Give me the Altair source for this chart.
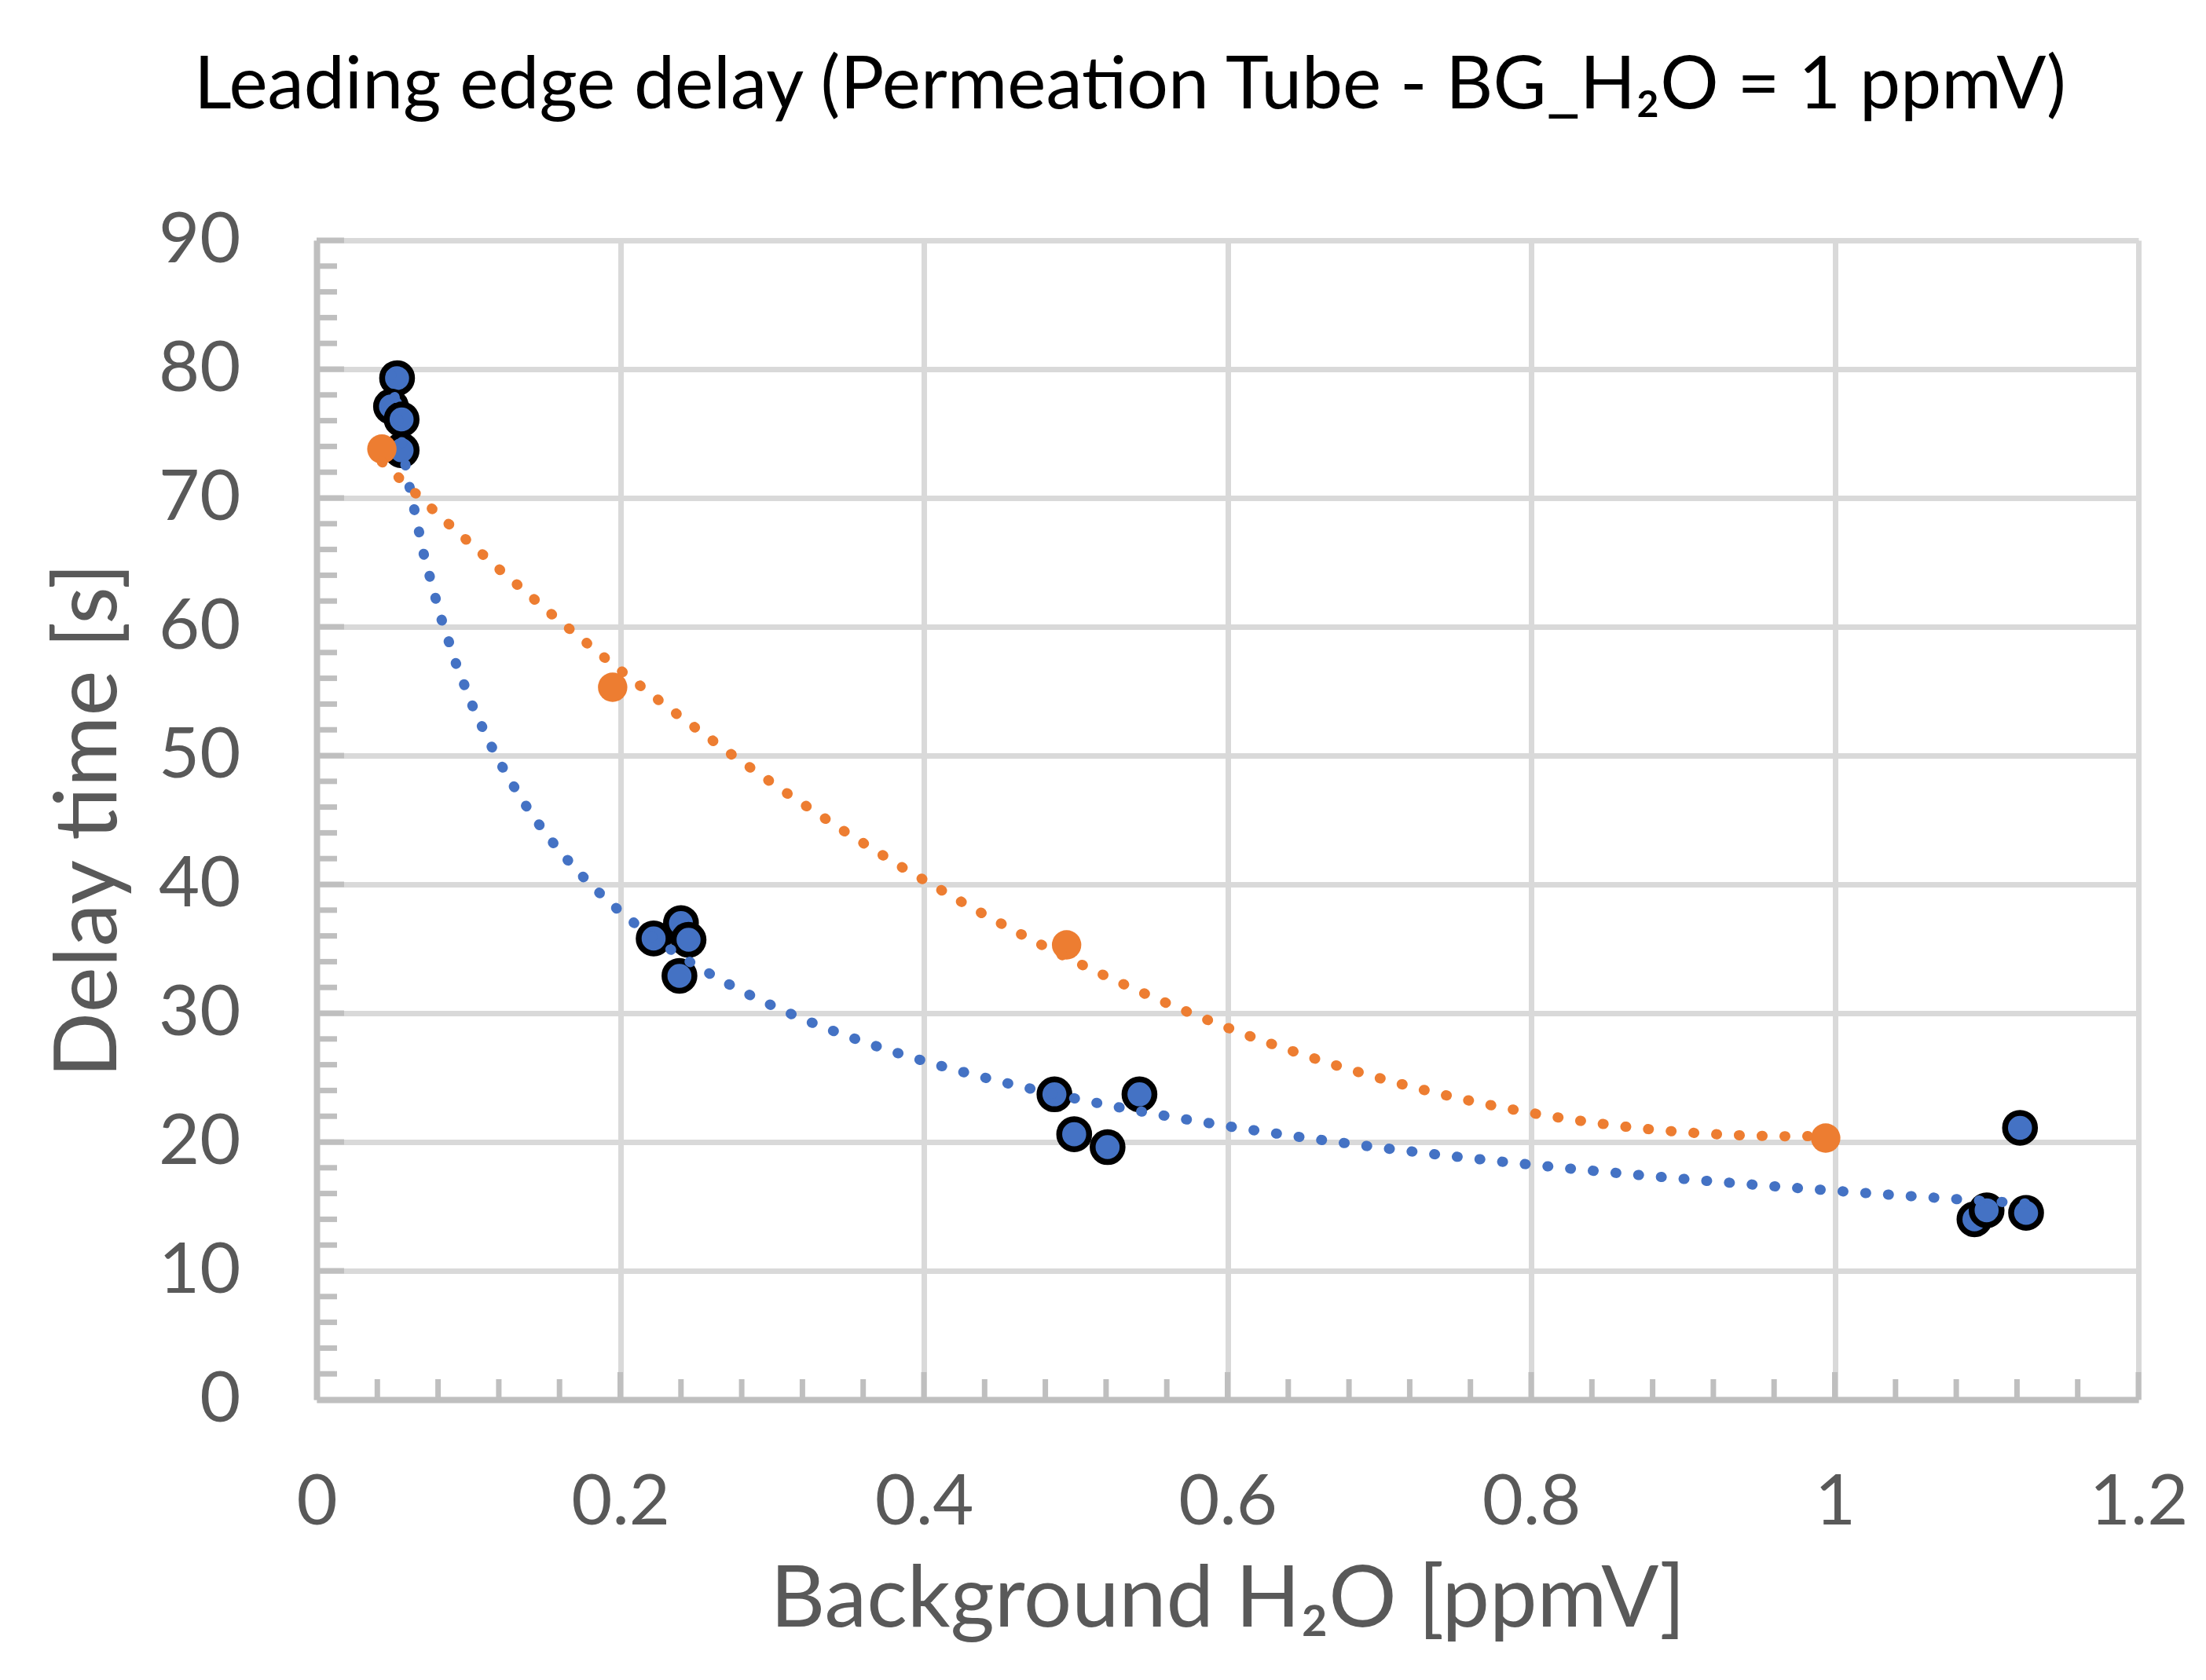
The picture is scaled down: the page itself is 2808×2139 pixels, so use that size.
import altair as alt
import pandas as pd

# ---- data ----
blue_x = [0.053, 0.049, 0.056, 0.056, 0.222, 0.240, 0.245, 0.239,
          0.486, 0.542, 0.499, 0.521, 1.122, 1.092, 1.100, 1.126]
blue_y = [79.3, 77.1, 76.1, 73.7, 35.8, 37.0, 35.7, 32.9,
          23.7, 23.7, 20.6, 19.6, 21.1, 14.0, 14.7, 14.5]
orange_x = [0.043, 0.195, 0.494, 0.994]
orange_y = [73.8, 55.3, 35.3, 20.3]

x_ticks = [0, 0.2, 0.4, 0.6, 0.8, 1.0, 1.2]
y_ticks = [0, 10, 20, 30, 40, 50, 60, 70, 80, 90]
x_minor = [0.04, 0.08, 0.12, 0.16, 0.24, 0.28, 0.32, 0.36, 0.44, 0.48, 0.52, 0.56,
           0.64, 0.68, 0.72, 0.76, 0.84, 0.88, 0.92, 0.96, 1.04, 1.08, 1.12, 1.16]
y_minor = [2, 4, 6, 8, 12, 14, 16, 18, 22, 24, 26, 28, 32, 34, 36, 38, 42, 44, 46, 48,
           52, 54, 56, 58, 62, 64, 66, 68, 72, 74, 76, 78, 82, 84, 86, 88]

TITLE = "Leading edge delay (Permeation Tube - BG_H\u2082O = 1 ppmV)"
X_TITLE = "Background H\u2082O [ppmV]"
Y_TITLE = "Delay time [s]"

BLUE = "#4472C4"
ORANGE = "#ED7D31"
GRID = "#D9D9D9"
AXIS = "#BFBFBF"
TEXT = "#595959"
FONT = "Lato"

W, H = 2319, 1476

blue_df = pd.DataFrame({"x": blue_x, "y": blue_y})
orange_df = pd.DataFrame({"x": orange_x, "y": orange_y})

xs = alt.Scale(domain=[0, 1.2], nice=False, zero=False)
ys = alt.Scale(domain=[0, 90], nice=False, zero=False)

x_axis = alt.Axis(values=x_ticks, format="~g", grid=True, gridColor=GRID, gridWidth=7,
                  domainColor=AXIS, domainWidth=8, ticks=False,
                  labelFont=FONT, labelFontSize=90, labelColor=TEXT,
                  labelBaseline="alphabetic", labelPadding=158, labelFlush=False,
                  title=X_TITLE, titleFont=FONT, titleFontSize=108, titleColor=TEXT,
                  titleFontWeight="normal", titleBaseline="alphabetic",
                  titleX=W / 2, titleY=288)
y_axis = alt.Axis(values=y_ticks, grid=True, gridColor=GRID, gridWidth=7,
                  domainColor=AXIS, domainWidth=8, ticks=False,
                  labelFont=FONT, labelFontSize=90, labelColor=TEXT,
                  labelBaseline="middle", labelPadding=97, labelFlush=False,
                  title=Y_TITLE, titleFont=FONT, titleFontSize=110, titleColor=TEXT,
                  titleFontWeight="normal", titleBaseline="alphabetic",
                  titleX=-256, titleY=H / 2, titleAngle=-90)


def X(field):
    return alt.X(f"{field}:Q", scale=xs, axis=x_axis)


def Y(field):
    return alt.Y(f"{field}:Q", scale=ys, axis=y_axis)


base_blue = alt.Chart(blue_df)
base_orange = alt.Chart(orange_df)

blue_pts = base_blue.mark_point(filled=True, shape="circle", size=1450, fill=BLUE,
                                stroke="black", strokeWidth=7.5, opacity=1).encode(
    x=X("x"), y=Y("y"))
orange_pts = base_orange.mark_point(filled=True, shape="circle", size=1400, fill=ORANGE,
                                    strokeWidth=0, opacity=1).encode(
    x=X("x"), y=Y("y"))

blue_fit = base_blue.transform_regression("x", "y", method="pow").mark_line(
    color=BLUE, strokeWidth=13, strokeDash=[1, 28], strokeCap="round").encode(
    x=X("x"), y=Y("y"))
orange_fit = base_orange.transform_regression("x", "y", method="poly", order=2).mark_line(
    color=ORANGE, strokeWidth=13, strokeDash=[1, 28], strokeCap="round").encode(
    x=X("x"), y=Y("y"))

xminor_df = pd.DataFrame({"v": x_minor})
yminor_df = pd.DataFrame({"v": y_minor})
xmajor_df = pd.DataFrame({"v": x_ticks[1:]})
ymajor_df = pd.DataFrame({"v": y_ticks[1:]})

xminor = alt.Chart(xminor_df).mark_rule(color=AXIS, strokeWidth=7).encode(
    x=X("v"), y=alt.value(H), y2=alt.value(H - 26))
xmajor = alt.Chart(xmajor_df).mark_rule(color=AXIS, strokeWidth=7).encode(
    x=X("v"), y=alt.value(H), y2=alt.value(H - 35))
yminor = alt.Chart(yminor_df).mark_rule(color=AXIS, strokeWidth=7).encode(
    y=Y("v"), x=alt.value(0), x2=alt.value(26))
ymajor = alt.Chart(ymajor_df).mark_rule(color=AXIS, strokeWidth=7).encode(
    y=Y("v"), x=alt.value(0), x2=alt.value(35))

chart = alt.layer(
    blue_pts, xminor, xmajor, yminor, ymajor, orange_pts, blue_fit, orange_fit
).properties(
    width=W, height=H,
    title=alt.Title(TITLE, font=FONT, fontSize=93, fontWeight="normal", color="black",
                    anchor="middle", frame="group", dx=-124, offset=30,
                    baseline="alphabetic"),
    autosize=alt.AutoSizeParams(type="none"),
    padding={"left": 395, "top": 298, "right": 78, "bottom": 349},
).configure_view(stroke=None).configure(background="white")

chart.save("out.html", embed_options={"renderer": "svg", "actions": False})
